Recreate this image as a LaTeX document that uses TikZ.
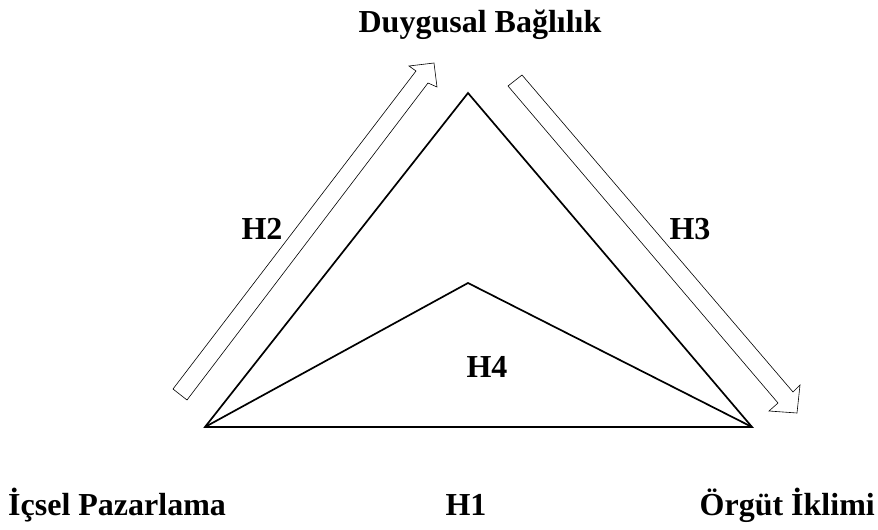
\documentclass[tikz,border=0pt]{standalone}
\usepackage{fontspec}
\setmainfont{Liberation Serif}
\begin{document}
\begin{tikzpicture}[x=1pt,y=-1pt,
  lbl/.style={font=\fontsize{32}{38}\selectfont\bfseries, inner sep=0pt, anchor=base},
  tri/.style={draw=black, line width=1.7pt, line join=miter},
  hollowarrow/.style={draw=black, line width=0.6pt, fill=white, line join=miter}]
\useasboundingbox (0,0) rectangle (878,530);
% vertices
\coordinate (L) at (205,427);
\coordinate (R) at (752,427);
\coordinate (T) at (468,93);
\coordinate (I) at (468,283);
% triangles
\draw[tri] (L) -- (T) -- (R) -- cycle;
\draw[tri] (L) -- (I) -- (R);
% hollow arrows
\draw[hollowarrow] (173,389) -- (416,71) -- (409,66) -- (434,63) -- (437,87) -- (428,83) -- (187,400) -- cycle;
\draw[hollowarrow] (508,86) -- (778,403) -- (769,411) -- (797,413) -- (800,385) -- (793,392) -- (522,75) -- cycle;
% labels
\node[lbl] (db) at (480,32) {Duygusal Bağlılık};
\node[lbl] (h2) at (262,239) {H2};
\node[lbl] (h3) at (690,239) {H3};
\node[lbl] (h4) at (487,377) {H4};
\node[lbl, anchor=base west] (ip) at (8,515) {İçsel Pazarlama};
\node[lbl] (h1) at (466,515) {H1};
\node[lbl, anchor=base east] (oi) at (875,515) {Örgüt İklimi};
\end{tikzpicture}
\end{document}
